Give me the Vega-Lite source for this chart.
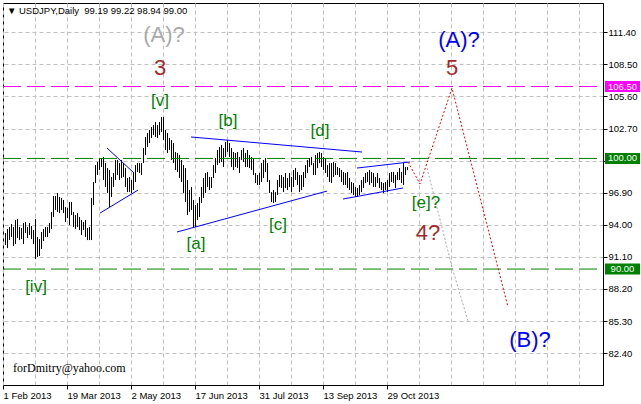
{
  "$schema": "https://vega.github.io/schema/vega-lite/v6.json",
  "width": 600,
  "height": 382,
  "autosize": {"type": "none"},
  "padding": {"left": 3, "top": 3, "right": 38, "bottom": 19},
  "background": "white",
  "config": {
    "font": "Liberation Sans",
    "view": {"stroke": "black", "strokeWidth": 1}
  },
  "resolve": {"scale": {"color": "independent"}},
  "datasets": {
    "bars": [
      {"i":1,"p":92.17,"p2":93.26},{"i":2,"p":91.90,"p2":93.62},{"i":3,"p":92.62,"p2":93.80},{"i":4,"p":92.90,"p2":94.07},{"i":5,"p":92.08,"p2":93.80},
      {"i":6,"p":92.26,"p2":94.43},{"i":7,"p":92.80,"p2":94.52},{"i":8,"p":92.62,"p2":93.80},{"i":9,"p":92.71,"p2":93.71},{"i":10,"p":92.26,"p2":94.16},
      {"i":11,"p":93.26,"p2":94.25},{"i":12,"p":92.80,"p2":93.80},{"i":13,"p":93.08,"p2":94.16},{"i":14,"p":92.71,"p2":93.89},{"i":15,"p":92.26,"p2":93.53},
      {"i":16,"p":90.91,"p2":94.52},{"i":17,"p":91.09,"p2":92.90},{"i":18,"p":91.18,"p2":92.71},{"i":19,"p":91.81,"p2":93.35},{"i":20,"p":92.53,"p2":93.62},
      {"i":21,"p":92.90,"p2":93.80},{"i":22,"p":92.90,"p2":93.80},{"i":23,"p":93.26,"p2":94.16},{"i":24,"p":93.62,"p2":95.16},{"i":25,"p":94.70,"p2":96.60},
      {"i":26,"p":95.34,"p2":96.60},{"i":27,"p":95.16,"p2":96.87},{"i":28,"p":95.06,"p2":96.51},{"i":29,"p":95.34,"p2":96.42},{"i":30,"p":95.06,"p2":96.24},
      {"i":31,"p":94.25,"p2":95.61},{"i":32,"p":94.61,"p2":95.52},{"i":33,"p":93.98,"p2":96.06},{"i":34,"p":94.88,"p2":96.06},{"i":35,"p":93.80,"p2":95.16},
      {"i":36,"p":93.62,"p2":94.88},{"i":37,"p":93.80,"p2":95.06},{"i":38,"p":93.53,"p2":94.70},{"i":39,"p":93.08,"p2":94.43},{"i":40,"p":93.53,"p2":94.25},
      {"i":41,"p":92.90,"p2":94.43},{"i":42,"p":92.62,"p2":93.71},{"i":43,"p":92.62,"p2":93.80},{"i":44,"p":92.62,"p2":96.42},{"i":45,"p":95.79,"p2":97.87},
      {"i":46,"p":97.78,"p2":99.40},{"i":47,"p":98.50,"p2":99.68},{"i":48,"p":98.95,"p2":100.04},{"i":49,"p":99.22,"p2":100.04},{"i":50,"p":98.05,"p2":100.13},
      {"i":51,"p":97.42,"p2":99.58},{"i":52,"p":96.87,"p2":99.13},{"i":53,"p":95.61,"p2":98.95},{"i":54,"p":96.51,"p2":98.32},{"i":55,"p":97.42,"p2":98.68},
      {"i":56,"p":98.05,"p2":99.86},{"i":57,"p":98.50,"p2":99.86},{"i":58,"p":98.05,"p2":99.58},{"i":59,"p":98.23,"p2":99.86},{"i":60,"p":98.32,"p2":99.58},
      {"i":61,"p":97.42,"p2":99.13},{"i":62,"p":96.96,"p2":98.23},{"i":63,"p":96.96,"p2":98.32},{"i":64,"p":96.87,"p2":98.05},{"i":65,"p":97.14,"p2":98.77},
      {"i":66,"p":97.87,"p2":99.40},{"i":67,"p":98.77,"p2":99.58},{"i":68,"p":98.68,"p2":99.58},{"i":69,"p":98.50,"p2":99.58},{"i":70,"p":99.58,"p2":100.94},
      {"i":71,"p":100.31,"p2":101.94},{"i":72,"p":101.03,"p2":102.30},{"i":73,"p":101.39,"p2":102.57},{"i":74,"p":101.85,"p2":102.84},{"i":75,"p":102.12,"p2":103.02},
      {"i":76,"p":101.94,"p2":103.29},{"i":77,"p":101.85,"p2":103.02},{"i":78,"p":102.12,"p2":103.29},{"i":79,"p":102.39,"p2":103.74},{"i":80,"p":101.66,"p2":103.74},
      {"i":81,"p":100.76,"p2":102.57},{"i":82,"p":100.49,"p2":102.30},{"i":83,"p":100.76,"p2":101.85},{"i":84,"p":99.86,"p2":101.66},{"i":85,"p":99.58,"p2":101.39},
      {"i":86,"p":98.95,"p2":100.58},{"i":87,"p":98.77,"p2":100.49},{"i":88,"p":98.23,"p2":100.31},{"i":89,"p":97.87,"p2":99.86},{"i":90,"p":96.87,"p2":99.40},
      {"i":91,"p":96.06,"p2":99.13},{"i":92,"p":94.88,"p2":98.05},{"i":93,"p":95.16,"p2":97.14},{"i":94,"p":95.34,"p2":97.42},{"i":95,"p":93.71,"p2":96.24},
      {"i":96,"p":93.80,"p2":95.79},{"i":97,"p":94.43,"p2":95.97},{"i":98,"p":94.70,"p2":96.51},{"i":99,"p":95.97,"p2":97.42},{"i":100,"p":96.42,"p2":98.23},
      {"i":101,"p":96.87,"p2":98.68},{"i":102,"p":97.42,"p2":98.77},{"i":103,"p":97.14,"p2":98.32},{"i":104,"p":97.33,"p2":98.32},{"i":105,"p":98.23,"p2":99.40},
      {"i":106,"p":98.68,"p2":100.04},{"i":107,"p":99.40,"p2":100.76},{"i":108,"p":99.58,"p2":101.03},{"i":109,"p":99.68,"p2":101.21},{"i":110,"p":99.22,"p2":100.94},
      {"i":111,"p":100.13,"p2":101.48},{"i":112,"p":100.58,"p2":101.66},{"i":113,"p":100.13,"p2":101.39},{"i":114,"p":99.22,"p2":100.94},{"i":115,"p":98.95,"p2":100.58},
      {"i":116,"p":99.22,"p2":100.49},{"i":117,"p":99.13,"p2":100.58},{"i":118,"p":98.68,"p2":100.13},{"i":119,"p":99.86,"p2":100.76},{"i":120,"p":99.68,"p2":100.94},
      {"i":121,"p":99.22,"p2":100.49},{"i":122,"p":99.22,"p2":100.76},{"i":123,"p":99.13,"p2":100.31},{"i":124,"p":98.95,"p2":100.13},{"i":125,"p":98.50,"p2":100.04},
      {"i":126,"p":97.78,"p2":98.68},{"i":127,"p":97.60,"p2":98.50},{"i":128,"p":97.60,"p2":98.68},{"i":129,"p":97.87,"p2":99.58},{"i":130,"p":98.23,"p2":99.86},
      {"i":131,"p":98.77,"p2":100.04},{"i":132,"p":97.87,"p2":99.58},{"i":133,"p":96.87,"p2":98.05},{"i":134,"p":96.06,"p2":96.96},{"i":135,"p":95.97,"p2":97.14},
      {"i":136,"p":96.06,"p2":96.96},{"i":137,"p":96.69,"p2":98.05},{"i":138,"p":97.42,"p2":98.50},{"i":139,"p":97.33,"p2":98.50},{"i":140,"p":96.96,"p2":98.32},
      {"i":141,"p":97.33,"p2":98.68},{"i":142,"p":97.14,"p2":98.23},{"i":143,"p":97.42,"p2":98.68},{"i":144,"p":96.96,"p2":98.32},{"i":145,"p":97.42,"p2":98.95},
      {"i":146,"p":98.05,"p2":99.13},{"i":147,"p":97.60,"p2":98.77},{"i":148,"p":96.96,"p2":98.50},{"i":149,"p":97.14,"p2":98.50},{"i":150,"p":97.42,"p2":98.77},
      {"i":151,"p":98.23,"p2":99.40},{"i":152,"p":98.68,"p2":99.86},{"i":153,"p":99.22,"p2":100.04},{"i":154,"p":99.40,"p2":100.13},{"i":155,"p":98.50,"p2":99.58},
      {"i":156,"p":98.50,"p2":100.31},{"i":157,"p":99.13,"p2":100.49},{"i":158,"p":99.58,"p2":100.58},{"i":159,"p":99.22,"p2":100.49},{"i":160,"p":98.95,"p2":100.13},
      {"i":161,"p":98.68,"p2":100.04},{"i":162,"p":98.32,"p2":99.40},{"i":163,"p":97.87,"p2":99.58},{"i":164,"p":97.78,"p2":99.58},{"i":165,"p":98.32,"p2":99.68},
      {"i":166,"p":98.50,"p2":99.58},{"i":167,"p":98.50,"p2":99.22},{"i":168,"p":98.32,"p2":99.13},{"i":169,"p":97.87,"p2":98.95},{"i":170,"p":97.60,"p2":98.77},
      {"i":171,"p":97.60,"p2":98.68},{"i":172,"p":97.33,"p2":98.77},{"i":173,"p":97.14,"p2":98.23},{"i":174,"p":96.87,"p2":97.87},{"i":175,"p":96.69,"p2":97.78},
      {"i":176,"p":96.51,"p2":97.42},{"i":177,"p":96.51,"p2":97.33},{"i":178,"p":96.69,"p2":97.60},{"i":179,"p":96.96,"p2":98.05},{"i":180,"p":97.33,"p2":98.32},
      {"i":181,"p":97.78,"p2":98.68},{"i":182,"p":97.87,"p2":98.77},{"i":183,"p":97.60,"p2":98.95},{"i":184,"p":97.78,"p2":98.77},{"i":185,"p":97.42,"p2":98.68},
      {"i":186,"p":97.42,"p2":98.32},{"i":187,"p":97.78,"p2":98.68},{"i":188,"p":97.33,"p2":98.23},{"i":189,"p":97.14,"p2":97.87},{"i":190,"p":96.87,"p2":97.78},
      {"i":191,"p":97.14,"p2":97.87},{"i":192,"p":96.96,"p2":98.05},{"i":193,"p":97.42,"p2":98.68},{"i":194,"p":97.87,"p2":98.77},{"i":195,"p":97.78,"p2":98.77},
      {"i":196,"p":97.33,"p2":98.50},{"i":197,"p":98.05,"p2":98.77},{"i":198,"p":98.05,"p2":99.13},{"i":199,"p":97.78,"p2":98.77},{"i":200,"p":97.60,"p2":99.58},
      {"i":201,"p":98.50,"p2":99.22},{"i":202,"p":98.94,"p2":99.22}
    ],
    "levels": [
      {"i":0,"i2":300,"p":106.5,"name":"106.50"},
      {"i":0,"i2":300,"p":100.0,"name":"100.00"},
      {"i":0,"i2":300,"p":90.0,"name":"90.00"}
    ],
    "boxes": [
      {"i":301,"i2":318.5,"p":106.0,"p2":107.0,"c":309.75,"m":106.5,"name":"106.50"},
      {"i":301,"i2":318.5,"p":99.5,"p2":100.5,"c":309.75,"m":100.0,"name":"100.00"},
      {"i":301,"i2":318.5,"p":89.5,"p2":90.5,"c":309.75,"m":90.0,"name":"90.00"}
    ],
    "trend": [
      {"seg":1,"i":52,"p":100.94},{"seg":1,"i":65,"p":98.77},
      {"seg":2,"i":48.5,"p":95.06},{"seg":2,"i":67.5,"p":97.14},
      {"seg":3,"i":94,"p":101.94},{"seg":3,"i":179.5,"p":100.58},
      {"seg":4,"i":87,"p":93.35},{"seg":4,"i":162,"p":97.05},
      {"seg":5,"i":177,"p":99.13},{"seg":5,"i":203.5,"p":99.68},
      {"seg":6,"i":170,"p":96.33},{"seg":6,"i":200,"p":97.33}
    ],
    "main": [
      {"i":202.5,"p":99.68},{"i":208.5,"p":97.69},{"i":224.5,"p":106.35},{"i":252.5,"p":86.57}
    ],
    "alt": [
      {"i":212,"p":99.13},{"i":224.5,"p":90.18},{"i":232.5,"p":85.30}
    ],
    "big": [
      {"i":80.5,"p":111.16,"t":"(A)?","g":"prior"},
      {"i":78.5,"p":108.17,"t":"3","g":"wave"},
      {"i":224.5,"p":108.17,"t":"5","g":"wave"},
      {"i":212.5,"p":93.26,"t":"4?","g":"wave"},
      {"i":228,"p":110.70,"t":"(A)?","g":"target"},
      {"i":263.5,"p":83.58,"t":"(B)?","g":"target"}
    ],
    "minor": [
      {"i":16.5,"p":88.38,"t":"[iv]"},
      {"i":78.5,"p":105.19,"t":"[v]"},
      {"i":96.5,"p":92.26,"t":"[a]"},
      {"i":112.5,"p":103.38,"t":"[b]"},
      {"i":137.5,"p":93.98,"t":"[c]"},
      {"i":158.5,"p":102.48,"t":"[d]"},
      {"i":211.5,"p":95.97,"t":"[e]?"}
    ],
    "head": [
      {"i":2,"p":113.33,"t":"▼"},
      {"i":8,"p":113.33,"t":"USDJPY,Daily\u00a0 99.19 99.22 98.94 99.00"}
    ],
    "sign": [
      {"i":5,"p":81.05,"t":"forDmitry@yahoo.com"}
    ]
  },
  "encoding": {
    "x": {
      "field": "i", "type": "quantitative",
      "scale": {"domain": [0, 300], "nice": false, "zero": false},
      "axis": {
        "title": null,
        "values": [0,16,32,48,64,80,96,112,128,144,160,176,192,208,224,240,256,272,288],
        "grid": true, "gridColor": "#c0c0c0", "gridDash": [4, 3], "gridWidth": 1,
        "domainColor": "black", "tickColor": "black", "tickSize": 4,
        "tickOpacity": {"condition": {"test": "datum.value % 32 === 0 && datum.value <= 192", "value": 1}, "value": 0},
        "labelExpr": "datum.value === 0 ? '1 Feb 2013' : datum.value === 32 ? '19 Mar 2013' : datum.value === 64 ? '2 May 2013' : datum.value === 96 ? '17 Jun 2013' : datum.value === 128 ? '31 Jul 2013' : datum.value === 160 ? '13 Sep 2013' : datum.value === 192 ? '29 Oct 2013' : ''",
        "labelAlign": "left", "labelBaseline": "top", "labelPadding": 1,
        "labelFlush": false, "labelOverlap": false, "labelBound": false,
        "labelFont": "Liberation Sans", "labelFontSize": 9.5, "labelColor": "black"
      }
    },
    "y": {
      "field": "p", "type": "quantitative",
      "scale": {"domain": [79.52, 114.05], "nice": false, "zero": false},
      "axis": {
        "title": null, "orient": "right",
        "values": [82.4, 85.3, 88.2, 91.1, 94.0, 96.9, 99.8, 102.7, 105.6, 108.5, 111.4],
        "format": ".2f",
        "grid": true, "gridColor": "#c0c0c0", "gridDash": [4, 3], "gridWidth": 1,
        "domainColor": "black", "tickColor": "black", "tickSize": 4,
        "labelPadding": 1, "labelFlush": false, "labelOverlap": false, "labelBound": false,
        "labelFont": "Liberation Sans", "labelFontSize": 9.5, "labelColor": "black"
      }
    }
  },
  "layer": [
    {
      "data": {"name": "bars"},
      "mark": {"type": "rule", "color": "black", "strokeWidth": 1, "xOffset": 0.5},
      "encoding": {"y2": {"field": "p2"}}
    },
    {
      "data": {"name": "levels"},
      "mark": {"type": "rule", "strokeWidth": 1, "strokeDash": [18, 6]},
      "encoding": {
        "x2": {"field": "i2"},
        "color": {"field": "name", "type": "nominal", "legend": null,
          "scale": {"domain": ["106.50", "100.00", "90.00"], "range": ["#ff00ff", "#008000", "#008000"]}}
      }
    },
    {
      "data": {"name": "trend"},
      "mark": {"type": "line", "color": "#0000ff", "strokeWidth": 1},
      "encoding": {"detail": {"field": "seg", "type": "nominal"}}
    },
    {
      "data": {"name": "alt"},
      "mark": {"type": "line", "color": "#a8a8a8", "strokeWidth": 1, "strokeDash": [2, 2]},
      "encoding": {}
    },
    {
      "data": {"name": "main"},
      "mark": {"type": "line", "color": "#ff0000", "strokeWidth": 1, "strokeDash": [2, 2]},
      "encoding": {}
    },
    {
      "data": {"name": "big"},
      "mark": {"type": "text", "font": "Liberation Sans", "fontSize": 22, "align": "center", "baseline": "middle"},
      "encoding": {
        "text": {"field": "t"},
        "color": {"field": "g", "type": "nominal", "legend": null,
          "scale": {"domain": ["prior", "wave", "target"], "range": ["#aaaaaa", "#a52a2a", "#0000ff"]}}
      }
    },
    {
      "data": {"name": "minor"},
      "mark": {"type": "text", "font": "Liberation Sans", "fontSize": 17, "align": "center", "baseline": "middle", "color": "#008000"},
      "encoding": {"text": {"field": "t"}}
    },
    {
      "data": {"name": "head"},
      "mark": {"type": "text", "font": "Liberation Sans", "fontSize": 9.5, "align": "left", "baseline": "middle", "color": "black"},
      "encoding": {"text": {"field": "t"}}
    },
    {
      "data": {"name": "sign"},
      "mark": {"type": "text", "font": "Liberation Serif", "fontSize": 12, "align": "left", "baseline": "middle", "color": "black"},
      "encoding": {"text": {"field": "t"}}
    },
    {
      "data": {"name": "boxes"},
      "mark": {"type": "rect"},
      "encoding": {
        "x2": {"field": "i2"},
        "y2": {"field": "p2"},
        "color": {"field": "name", "type": "nominal", "legend": null,
          "scale": {"domain": ["106.50", "100.00", "90.00"], "range": ["#ff00ff", "#008000", "#008000"]}}
      }
    },
    {
      "data": {"name": "boxes"},
      "mark": {"type": "text", "font": "Liberation Sans", "fontSize": 9.5, "align": "center", "baseline": "middle", "color": "white"},
      "encoding": {
        "x": {"field": "c", "type": "quantitative"},
        "y": {"field": "m", "type": "quantitative"},
        "text": {"field": "name"}
      }
    }
  ]
}
